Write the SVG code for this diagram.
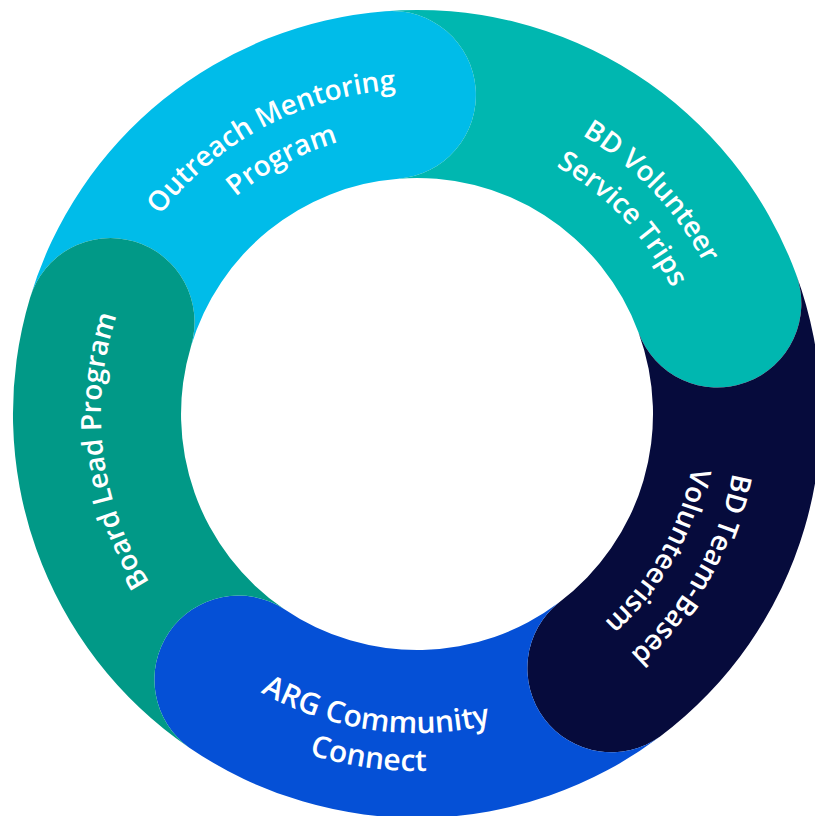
<svg xmlns="http://www.w3.org/2000/svg" xmlns:xlink="http://www.w3.org/1999/xlink" width="815" height="816" viewBox="0 0 815 816">
<style>
.lbl{font-family:"Open Sans","Noto Sans","Liberation Sans",sans-serif;font-weight:600;font-size:28px;fill:#ffffff;}
.big{font-size:30px;}
</style>
<defs>
<path id="tOut1" d="M 92.2 402.7 A 325 325 0 0 1 589.2 138.4"/>
<path id="tOut2" d="M 134.2 404.1 A 283 283 0 0 1 567.0 174.0"/>
<path id="tTeal1" d="M 341.4 99.0 A 324 324 0 0 1 727.7 506.0"/>
<path id="tTeal2" d="M 350.7 137.8 A 284 284 0 0 1 689.3 494.7"/>
<path id="tNavy1" d="M 693.6 251.1 A 321 321 0 0 1 419.8 735.0"/>
<path id="tNavy2" d="M 658.3 271.9 A 280 280 0 0 1 419.4 694.0"/>
<path id="tArg1" d="M 121.2 533.5 A 319 319 0 0 0 668.4 610.4"/>
<path id="tArg2" d="M 86.0 547.7 A 357 357 0 0 0 698.3 633.8"/>
<path id="tBoard" d="M 293.5 704.9 A 316 316 0 0 1 226.8 161.6"/>
</defs>
<rect width="815" height="816" fill="#ffffff"/>
<g id="outreach">
<path fill="#00BCE9" d="M 30.0 297.9 A 404 404 0 0 1 385.3 11.2 A 84 84 0 0 1 398.5 178.7 A 236 236 0 0 0 191.0 346.2 A 84 84 0 0 0 30.0 297.9 Z"/>
<text class="lbl" text-anchor="middle"><textPath xlink:href="#tOut1" href="#tOut1" startOffset="50%">Outreach Mentoring</textPath></text>
<text class="lbl" text-anchor="middle"><textPath xlink:href="#tOut2" href="#tOut2" startOffset="50%">Program</textPath></text>
</g>
<g id="bd-volunteer">
<path fill="#00B7B0" d="M 385.3 11.2 A 404 404 0 0 1 796.2 274.5 A 84 84 0 0 1 638.5 332.5 A 236 236 0 0 0 398.5 178.7 A 84 84 0 0 0 385.3 11.2 Z"/>
<text class="lbl" text-anchor="middle"><textPath xlink:href="#tTeal1" href="#tTeal1" startOffset="50%">BD Volunteer</textPath></text>
<text class="lbl" text-anchor="middle"><textPath xlink:href="#tTeal2" href="#tTeal2" startOffset="50%">Service Trips</textPath></text>
</g>
<g id="bd-team">
<path fill="#060B3C" d="M 796.2 274.5 A 404 404 0 0 1 660.1 736.6 A 84 84 0 0 1 559.0 602.5 A 236 236 0 0 0 638.5 332.5 A 84 84 0 0 0 796.2 274.5 Z"/>
<text class="lbl" text-anchor="middle"><textPath xlink:href="#tNavy1" href="#tNavy1" startOffset="50%">BD Team-Based</textPath></text>
<text class="lbl" text-anchor="middle"><textPath xlink:href="#tNavy2" href="#tNavy2" startOffset="50%">Volunteerism</textPath></text>
</g>
<g id="arg">
<path fill="#0550D6" d="M 660.1 736.6 A 404 404 0 0 1 189.3 747.7 A 84 84 0 0 1 284.0 609.0 A 236 236 0 0 0 559.0 602.5 A 84 84 0 0 0 660.1 736.6 Z"/>
<text class="lbl big" text-anchor="middle"><textPath xlink:href="#tArg1" href="#tArg1" startOffset="50%">ARG Community</textPath></text>
<text class="lbl big" text-anchor="middle"><textPath xlink:href="#tArg2" href="#tArg2" startOffset="50%">Connect</textPath></text>
</g>
<g id="board-lead">
<path fill="#019987" d="M 189.3 747.7 A 404 404 0 0 1 30.0 297.9 A 84 84 0 0 1 191.0 346.2 A 236 236 0 0 0 284.0 609.0 A 84 84 0 0 0 189.3 747.7 Z"/>
<text class="lbl" text-anchor="middle"><textPath xlink:href="#tBoard" href="#tBoard" startOffset="50%">Board Lead Program</textPath></text>
</g>
<g id="connectors"/>
</svg>
